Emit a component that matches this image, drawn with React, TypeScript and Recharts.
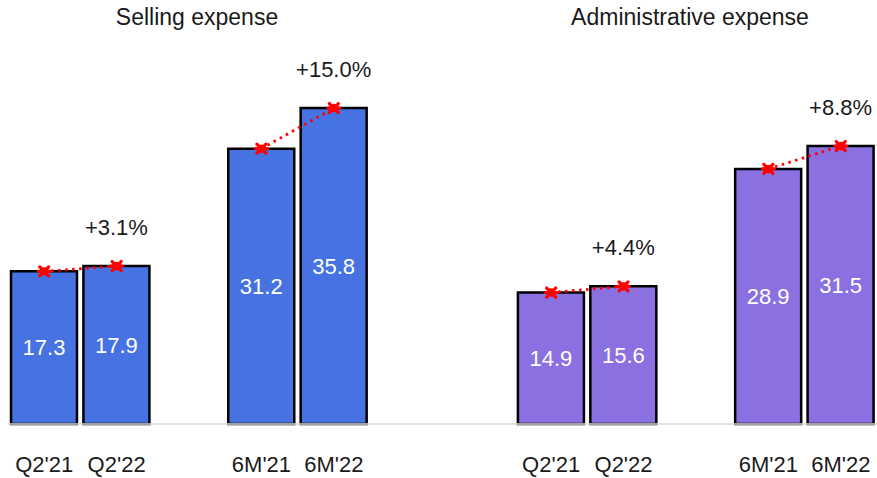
import { ComposedChart, Bar, Line, XAxis, YAxis, Cell, LabelList } from 'recharts'

const groups = ['Selling expense', 'Administrative expense']
const periods = ["Q2'21", "Q2'22", "6M'21", "6M'22"]
const sellingValues = [17.3, 17.9, 31.2, 35.8]
const adminValues = [14.9, 15.6, 28.9, 31.5]
const sellingChange = ['+3.1%', '+15.0%']
const adminChange = ['+4.4%', '+8.8%']
const groupColors = ['#4672E2', '#8B70E2']

type Slot = { slot: string; label: string; value: number | null; change: string | null; group: number }

// two pairs per group with an empty slot between pairs and two between groups
const buildSlots = (): Slot[] => {
    const out: Slot[] = []
    const series = [sellingValues, adminValues]
    const changes = [sellingChange, adminChange]
    series.forEach((vals, g) => {
        if (g > 0) {
            out.push({ slot: `gap${g}a`, label: '', value: null, change: null, group: g })
            out.push({ slot: `gap${g}b`, label: '', value: null, change: null, group: g })
        }
        vals.forEach((v, i) => {
            if (i === 2) out.push({ slot: `mid${g}`, label: '', value: null, change: null, group: g })
            out.push({
                slot: `${g}-${i}`,
                label: periods[i],
                value: v,
                change: i % 2 === 1 ? changes[g][(i - 1) / 2] : null,
                group: g,
            })
        })
    })
    return out
}

const data = buildSlots()

const Marker = (props: any) => {
    const { cx, cy, value } = props
    if (value == null || cx == null || cy == null) return null
    const r = 4.5
    return (
        <g>
            <circle cx={cx} cy={cy} r={4.2} fill="#FF0000" />
            <path d={`M${cx - r},${cy - r}L${cx + r},${cy + r}M${cx - r},${cy + r}L${cx + r},${cy - r}M${cx - 6},${cy}L${cx + 6},${cy}`} stroke="#FF0000" strokeWidth={3.2} strokeLinecap="round" />
        </g>
    )
}

const font = 'Arial, "Liberation Sans", sans-serif'

export default function App() {
    return (
        <div style={{ position: 'absolute', left: 0, top: 0, width: 877, height: 478, background: '#fff', fontFamily: font }}>
            <div style={{ position: 'absolute', left: 97, top: 4, width: 200, textAlign: 'center', fontSize: 23, color: '#1a1a1a' }}>{groups[0]}</div>
            <div style={{ position: 'absolute', left: 540, top: 4, width: 300, textAlign: 'center', fontSize: 23, color: '#1a1a1a' }}>{groups[1]}</div>
            <ComposedChart width={877} height={478} data={data} margin={{ top: 71, right: 0, left: 8, bottom: 0 }}>
                <XAxis
                    dataKey="slot"
                    interval={0}
                    height={54}
                    tickSize={0}
                    tickMargin={32}
                    tickLine={false}
                    stroke="#D9D9D9"
                    strokeWidth={1.5}
                    tick={{ fill: '#1a1a1a', fontSize: 22, fontFamily: font }}
                    tickFormatter={(s: string) => data.find(d => d.slot === s)?.label ?? ''}
                />
                <YAxis hide domain={[0, 40]} />
                <Bar dataKey="value" barSize={66} stroke="#000" strokeWidth={2.5} isAnimationActive={false}>
                    {data.map(d => (
                        <Cell key={d.slot} fill={groupColors[d.group]} />
                    ))}
                    <LabelList dataKey="value" position="center" fill="#FFFFFF" fontSize={22} fontFamily={font} />
                    <LabelList dataKey="change" position="top" offset={31} fill="#1a1a1a" fontSize={22} fontFamily={font} />
                </Bar>
                <Line
                    dataKey="value"
                    stroke="#FF0000"
                    strokeWidth={2.8}
                    strokeDasharray="2.5 4.5"
                    dot={<Marker />}
                    activeDot={false}
                    connectNulls={false}
                    isAnimationActive={false}
                />
            </ComposedChart>
        </div>
    )
}
